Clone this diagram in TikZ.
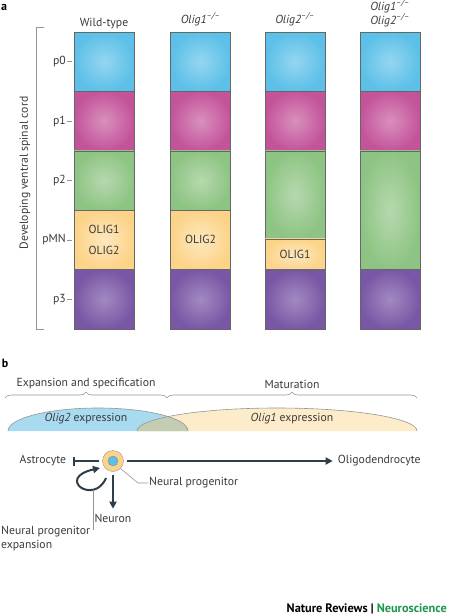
\documentclass[tikz,border=0pt]{standalone}
\usepackage{fontspec}
\setmainfont{PT Sans}
\usepackage{xcolor}
\definecolor{skyblue}{RGB}{92, 192, 232}
\definecolor{berry}{RGB}{196, 84, 154}
\definecolor{leaf}{RGB}{142, 196, 131}
\definecolor{butter}{RGB}{252, 212, 137}
\definecolor{grape}{RGB}{122, 87, 166}
\definecolor{slate}{RGB}{47, 62, 72}
\definecolor{inkgray}{RGB}{58, 58, 58}
\definecolor{rulegray}{RGB}{150, 150, 150}
\definecolor{natgreen}{RGB}{30, 150, 80}
\definecolor{olig2fill}{RGB}{168, 218, 240}
\definecolor{olig1fill}{RGB}{252, 236, 202}
\definecolor{overlapfill}{RGB}{196, 204, 178}
\usetikzlibrary{positioning, arrows.meta, decorations.pathreplacing}
\newcommand{\figfont}{\fontsize{11.7}{14}\selectfont}
\tikzset{
  zone/.style = {
    draw=black!60,
    line width=0.5pt,
    minimum width=60pt,
    minimum height=59.4pt,
    inner sep=0pt,
    outer sep=0pt,
    shading=radial,
    font=\figfont,
    text=inkgray,
    align=center
  },
  p0zone/.style = {zone, inner color=skyblue!65!white, outer color=skyblue},
  p1zone/.style = {zone, inner color=berry!65!white, outer color=berry},
  p2zone/.style = {zone, inner color=leaf!65!white, outer color=leaf},
  pmnzone/.style = {zone, inner color=butter!55!white, outer color=butter},
  p3zone/.style = {zone, inner color=grape!70!white, outer color=grape},
  note/.style = {
    font=\figfont,
    text=inkgray,
    inner sep=1pt
  },
  panel/.style = {
    font=\large\bfseries,
    text=black,
    inner sep=0pt
  },
  tick/.style = {draw=rulegray, line width=0.6pt},
  brace/.style = {
    draw=rulegray,
    line width=0.6pt,
    decorate,
    decoration={brace, amplitude=6pt}
  },
  arrow/.style = {
    -{Triangle[length=7pt, width=7pt]},
    draw=slate,
    line width=2pt
  },
  inhibit/.style = {
    -{Bar[width=9pt, line width=2pt]},
    draw=slate,
    line width=2pt
  },
  pointer/.style = {draw=rulegray, line width=0.6pt},
}
\begin{document}
\begin{tikzpicture}[x=1pt, y=1pt]
    \useasboundingbox[fill=white] (0,0) rectangle (450,-616);
    % panel a: progenitor domains
    \node[panel] (pa) at (4,-7) {a};
    \node[p0zone, anchor=north] (wt0) at (104,-32) {};
    \node[p1zone, below=0pt of wt0]   (wt1)  {};
    \node[p2zone, below=0pt of wt1]   (wt2)  {};
    \node[pmnzone, below=0pt of wt2]  (wtmn) {OLIG1\\[7pt]OLIG2};
    \node[p3zone, below=0pt of wtmn]  (wt3)  {};
    \node[p0zone, anchor=north] (oa0) at (200.5,-32) {};
    \node[p1zone, below=0pt of oa0]   (oa1)  {};
    \node[p2zone, below=0pt of oa1]   (oa2)  {};
    \node[pmnzone, below=0pt of oa2]  (oamn) {OLIG2};
    \node[p3zone, below=0pt of oamn]  (oa3)  {};
    \node[p0zone, anchor=north] (ob0) at (295,-32) {};
    \node[p1zone, below=0pt of ob0]   (ob1)  {};
    \node[p2zone, below=0pt of ob1, minimum height=88pt] (ob2) {};
    \node[pmnzone, below=0pt of ob2, minimum height=31pt] (obmn) {OLIG1};
    \node[p3zone, below=0pt of obmn]  (ob3)  {};
    \node[p0zone, anchor=north] (dk0) at (390,-32) {};
    \node[p1zone, below=0pt of dk0]   (dk1)  {};
    \node[p2zone, below=0pt of dk1, minimum height=118.8pt] (dk2) {};
    \node[p3zone, below=0pt of dk2]   (dk3)  {};
    % genotypes
    \node[note, above=2pt of wt0] (hwt) {Wild-type};
    \node[note, above=5pt of oa0] (hoa) {\textit{Olig1}\textsuperscript{\textit{–/–}}};
    \node[note, above=5pt of ob0] (hob) {\textit{Olig2}\textsuperscript{\textit{–/–}}};
    \node[note, above=4pt of dk0, align=center] (hdk)
      {\textit{Olig1}\textsuperscript{\textit{–/–}}\\\textit{Olig2}\textsuperscript{\textit{–/–}}};
    % domain names
    \node[note, left=7pt of wt0]  (lp0)  {p0};
    \node[note, left=7pt of wt1]  (lp1)  {p1};
    \node[note, left=7pt of wt2]  (lp2)  {p2};
    \node[note, left=7pt of wtmn] (lpmn) {pMN};
    \node[note, left=7pt of wt3]  (lp3)  {p3};
    \draw[tick, shorten >=2pt] (lp0) -- (wt0);
    \draw[tick, shorten >=2pt] (lp1) -- (wt1);
    \draw[tick, shorten >=2pt] (lp2) -- (wt2);
    \draw[tick, shorten >=2pt] (lpmn) -- (wtmn);
    \draw[tick, shorten >=2pt] (lp3) -- (wt3);
    \draw[tick] (44,-27) -- (36,-27) -- (36,-329) -- (44,-329);
    \node[note, rotate=90] (axis) at (25,-173) {Developing ventral spinal cord};
    % panel b: lineage
    \node[panel] (pb) at (5,-363) {b};
    \draw[brace] (5,-398) -- (167,-398);
    \draw[brace] (167,-398) -- (417,-398);
    \node[note] (expspec) at (86,-384) {Expansion and specification};
    \node[note] (mat)     at (292,-384) {Maturation};
    \fill[olig2fill] (8,-431) arc[start angle=180, end angle=0, x radius=90pt, y radius=23pt] -- cycle;
    \fill[olig1fill] (137,-431) arc[start angle=180, end angle=0, x radius=140pt, y radius=23pt] -- cycle;
    \begin{scope}
      \clip (8,-431) arc[start angle=180, end angle=0, x radius=90pt, y radius=23pt] -- cycle;
      \fill[overlapfill] (137,-431) arc[start angle=180, end angle=0, x radius=140pt, y radius=23pt] -- cycle;
    \end{scope}
    \draw[pointer] (8,-431) arc[start angle=180, end angle=0, x radius=90pt, y radius=23pt];
    \draw[pointer] (137,-431) arc[start angle=180, end angle=0, x radius=140pt, y radius=23pt];
    \node[note] (o2) at (86,-419)  {\textit{Olig2} expression};
    \node[note] (o1) at (292,-419) {\textit{Olig1} expression};
    % cells
    \node[circle, draw=rulegray, fill=butter, minimum size=21pt, inner sep=0pt] (prog) at (113,-461) {};
    \node[circle, draw=black!45, fill=skyblue, minimum size=10pt, inner sep=0pt] (core) at (prog) {};
    \node[note, left=35pt of prog]   (astro) {Astrocyte};
    \node[note, right=213pt of prog] (oligo) {Oligodendrocyte};
    \node[note, below=41pt of prog]  (neuron) {Neuron};
    \draw[inhibit, shorten <=3pt, shorten >=6pt] (prog) -- (astro);
    \draw[arrow, shorten <=3pt, shorten >=4pt] (prog) -- (oligo);
    \draw[arrow, shorten <=3pt, shorten >=4pt] (prog) -- (neuron);
    \draw[arrow] ([shift={(-7pt,-17pt)}]prog.center)
      .. controls +(-12pt,-28pt) and +(-45pt,-10pt) .. ([shift={(-13pt,-7pt)}]prog.center)
      coordinate[pos=0.25] (loopmid);
    \node[note, anchor=west] (nplab) at (148,-483) {Neural progenitor};
    \draw[pointer] (prog.south east) -- ([xshift=-10pt]nplab.west) -- (nplab.west);
    \node[note, align=left, anchor=north west] (explab) at (0,-525) {Neural progenitor\\expansion};
    \draw[pointer, shorten >=-5pt] (loopmid) -- (loopmid |- explab.north east);
    \node[note, font=\fontsize{12.3}{14}\selectfont\bfseries, text=black, anchor=base east] (credit) at (448,-612)
      {Nature Reviews | \textcolor{natgreen}{Neuroscience}};
  \end{tikzpicture}
\end{document}
